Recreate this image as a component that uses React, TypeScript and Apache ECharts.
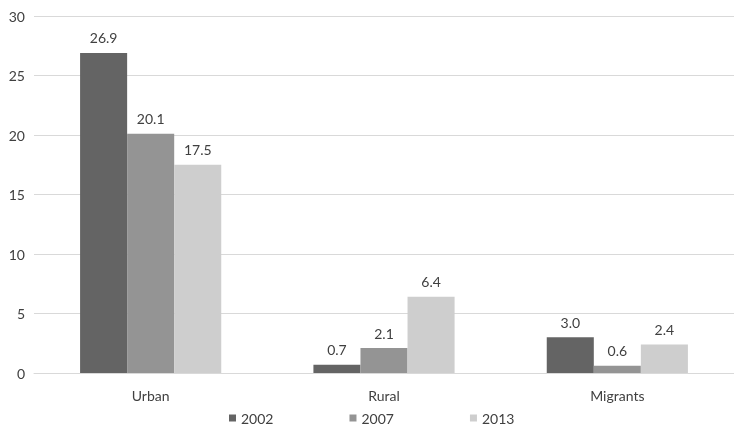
import React, { useEffect, useRef } from "react";
import * as echarts from "echarts";

const categories = ["Urban", "Rural", "Migrants"];
const seriesNames = ["2002", "2007", "2013"];
const values2002 = [26.9, 0.7, 3.0];
const values2007 = [20.1, 2.1, 0.6];
const values2013 = [17.5, 6.4, 2.4];
const colors = ["#646464", "#949494", "#cecece"];

export default function App() {
  const ref = useRef<HTMLDivElement>(null);
  useEffect(() => {
    const chart = echarts.init(ref.current!, null, { renderer: "svg" });
    const font = "Lato, 'Open Sans', sans-serif";
    const data = [values2002, values2007, values2013];
    chart.setOption({
      animation: false,
      textStyle: { fontFamily: font },
      grid: { left: 34, right: -4, top: 16, bottom: 57, containLabel: false },
      legend: {
        data: seriesNames,
        top: 411,
        left: 229,
        padding: 0,
        itemWidth: 7,
        itemHeight: 7,
        itemGap: 76,
        icon: "rect",
        textStyle: { fontSize: 14, color: "#404040", fontFamily: font },
      },
      xAxis: {
        type: "category",
        data: categories,
        axisLine: { lineStyle: { color: "#d9d9d9" } },
        axisTick: { show: false },
        axisLabel: { fontSize: 14, color: "#404040", margin: 15, fontFamily: font },
      },
      yAxis: {
        type: "value",
        min: 0,
        max: 30,
        interval: 5,
        axisLine: { show: false },
        axisTick: { show: false },
        splitLine: { lineStyle: { color: "#d9d9d9" } },
        axisLabel: { fontSize: 14, color: "#404040", margin: 9, fontFamily: font },
      },
      series: seriesNames.map((name, i) => ({
        name,
        type: "bar",
        data: data[i],
        barGap: "0%",
        barCategoryGap: "39.5%",
        itemStyle: { color: colors[i] },
        label: {
          show: true,
          position: "top",
          distance: 8,
          formatter: (p: any) => p.value.toFixed(1),
          fontSize: 14,
          color: "#404040",
          fontFamily: font,
        },
      })),
    });
    return () => chart.dispose();
  }, []);
  return (
    <div
      ref={ref}
      style={{ position: "fixed", left: 0, top: 0, width: 734, height: 430 }}
    />
  );
}
